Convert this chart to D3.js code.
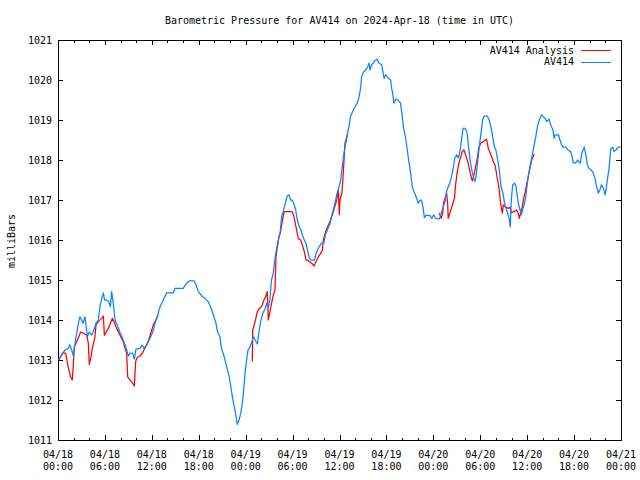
<!DOCTYPE html>
<html>
<head>
<meta charset="utf-8">
<script src="https://cdn.jsdelivr.net/npm/d3@7"></script>
<style>
html,body{margin:0;padding:0;background:#fff;}
svg{display:block;}
text{font-family:"DejaVu Sans Mono",monospace;font-size:10px;fill:#000;}
</style>
</head>
<body>
<svg id="chart" width="640" height="480"></svg>
<script>
// ---- data (hours since 2024-04-18 00:00 UTC, pressure in mbar) ----
const titleText = "Barometric Pressure for AV414 on 2024-Apr-18 (time in UTC)";
const yLabel = "milliBars";
const seriesNames = ["AV414 Analysis", "AV414"];
const xTickDates = ["04/18","04/18","04/18","04/18","04/19","04/19","04/19","04/19","04/20","04/20","04/20","04/20","04/21"];
const xTickTimes = ["00:00","06:00","12:00","18:00","00:00","06:00","12:00","18:00","00:00","06:00","12:00","18:00","00:00"];
const xTickHours = [0,6,12,18,24,30,36,42,48,54,60,66,72];
const yTicks = [1011,1012,1013,1014,1015,1016,1017,1018,1019,1020,1021];

const av414 = [
[0.1,1013.0],[0.4,1013.12],[0.9,1013.25],[1.3,1013.29],[1.5,1013.38],[1.75,1013.25],[1.96,1013.1],
[2.2,1013.46],[2.4,1013.67],[2.6,1013.92],[2.8,1014.08],[3.0,1014.0],[3.2,1013.92],[3.45,1014.08],
[3.6,1013.83],[3.75,1013.58],[4.0,1013.7],[4.3,1013.62],[4.5,1013.7],[4.86,1013.92],[5.15,1014.0],
[5.37,1014.33],[5.6,1014.54],[5.8,1014.68],[5.95,1014.5],[6.2,1014.5],[6.5,1014.46],[6.7,1014.33],
[6.86,1014.71],[7.07,1014.42],[7.3,1014.0],[7.6,1013.87],[7.9,1013.7],[8.27,1013.54],[8.57,1013.38],
[8.78,1013.25],[9.0,1013.1],[9.2,1013.17],[9.55,1013.17],[9.76,1013.02],[9.97,1013.27],[10.5,1013.29],
[10.74,1013.37],[11.0,1013.29],[11.34,1013.38],[11.76,1013.54],[12.2,1013.75],[12.4,1013.92],
[12.7,1014.08],[12.96,1014.29],[13.26,1014.42],[13.55,1014.54],[13.9,1014.68],[14.75,1014.68],
[14.96,1014.79],[16.0,1014.79],[16.45,1014.92],[16.8,1014.98],[17.4,1014.98],[17.65,1014.88],
[17.95,1014.71],[18.4,1014.6],[18.8,1014.54],[19.2,1014.46],[19.5,1014.33],[19.86,1014.13],
[20.2,1013.92],[20.4,1013.7],[20.7,1013.58],[20.9,1013.29],[21.2,1013.12],[21.57,1012.83],
[21.9,1012.58],[22.1,1012.33],[22.3,1012.08],[22.63,1011.75],[22.93,1011.39],[23.19,1011.52],
[23.4,1011.71],[23.6,1011.96],[23.8,1012.38],[23.95,1012.75],[24.1,1012.96],[24.3,1013.25],
[24.55,1013.33],[24.8,1013.46],[25.0,1013.58],[25.2,1013.5],[25.5,1013.4],[25.7,1013.71],
[25.96,1014.0],[26.2,1014.17],[26.5,1014.29],[26.7,1014.42],[26.9,1014.33],[27.1,1014.5],
[27.3,1015.0],[27.5,1015.13],[27.75,1015.54],[27.96,1015.79],[28.17,1016.0],[28.4,1016.17],
[28.6,1016.58],[28.8,1016.71],[29.07,1016.92],[29.3,1017.1],[29.54,1017.13],[29.75,1017.0],
[29.96,1017.0],[30.2,1016.88],[30.4,1016.75],[30.6,1016.5],[30.86,1016.33],[31.07,1016.25],
[31.24,1016.13],[31.5,1016.0],[31.71,1015.92],[31.9,1015.75],[32.1,1015.58],[32.3,1015.5],
[32.8,1015.5],[32.95,1015.63],[33.2,1015.75],[33.4,1015.83],[33.7,1015.92],[34.0,1015.92],
[34.2,1016.13],[34.45,1016.25],[34.8,1016.42],[35.0,1016.6],[35.2,1016.75],[35.45,1016.95],
[35.7,1017.17],[35.95,1017.33],[36.15,1017.5],[36.35,1017.83],[36.57,1018.17],[36.8,1018.42],
[37.0,1018.63],[37.2,1018.83],[37.4,1019.08],[37.68,1019.21],[37.98,1019.33],[38.28,1019.42],
[38.5,1019.58],[38.7,1019.79],[38.83,1020.08],[39.04,1020.19],[39.34,1020.25],[39.6,1020.33],
[39.77,1020.42],[39.9,1020.25],[40.1,1020.38],[40.33,1020.42],[40.5,1020.48],[40.8,1020.52],
[41.05,1020.42],[41.4,1020.38],[41.7,1020.04],[41.9,1020.13],[42.3,1020.04],[42.54,1020.0],
[42.67,1019.79],[42.8,1019.67],[42.95,1019.42],[43.2,1019.52],[43.5,1019.5],[43.8,1019.42],
[44.0,1019.13],[44.2,1018.79],[44.5,1018.5],[44.7,1018.2],[44.9,1017.92],[45.1,1017.67],
[45.3,1017.33],[45.55,1017.2],[45.86,1017.05],[46.07,1016.92],[46.3,1017.0],[46.5,1017.0],
[46.7,1016.79],[46.85,1016.56],[47.1,1016.62],[47.57,1016.61],[47.8,1016.54],[48.05,1016.63],
[48.3,1016.54],[48.8,1016.53],[49.0,1016.67],[49.2,1016.79],[49.5,1016.96],[49.7,1017.21],
[49.9,1017.33],[50.1,1017.42],[50.3,1017.56],[50.55,1017.8],[50.75,1018.05],[50.98,1018.13],
[51.2,1018.05],[51.4,1018.2],[51.6,1018.5],[51.8,1018.79],[52.05,1018.79],[52.3,1018.7],
[52.5,1018.33],[52.7,1018.0],[53.0,1017.67],[53.3,1017.46],[53.45,1017.58],[53.65,1017.92],
[53.87,1018.33],[54.1,1018.67],[54.3,1019.0],[54.5,1019.1],[54.9,1019.1],[55.15,1019.0],
[55.4,1018.79],[55.6,1018.58],[55.8,1018.33],[56.0,1018.25],[56.2,1018.04],[56.4,1017.79],
[56.5,1017.63],[56.65,1017.33],[56.9,1017.17],[57.1,1016.92],[57.3,1016.79],[57.5,1016.67],
[57.7,1016.54],[57.84,1016.33],[57.97,1017.0],[58.15,1017.38],[58.4,1017.42],[58.57,1017.33],
[58.75,1017.08],[58.9,1016.88],[59.1,1016.75],[59.25,1016.63],[59.4,1016.75],[59.6,1016.88],
[59.8,1017.04],[59.97,1017.33],[60.2,1017.67],[60.45,1017.92],[60.7,1018.17],[60.9,1018.38],
[61.1,1018.58],[61.3,1018.83],[61.55,1019.0],[61.85,1019.13],[62.05,1019.08],[62.3,1019.04],
[62.5,1018.96],[62.8,1019.02],[63.0,1018.88],[63.3,1018.75],[63.45,1018.54],[63.6,1018.63],
[64.0,1018.63],[64.2,1018.5],[64.4,1018.38],[64.6,1018.32],[64.95,1018.32],[65.2,1018.25],
[65.56,1018.21],[65.7,1018.13],[65.9,1017.93],[66.2,1017.93],[66.45,1018.0],[66.6,1017.96],
[66.8,1017.92],[66.98,1018.17],[67.3,1018.32],[67.5,1018.13],[67.7,1017.88],[67.9,1017.79],
[68.2,1017.75],[68.45,1017.67],[68.67,1017.54],[68.88,1017.33],[69.1,1017.17],[69.3,1017.25],
[69.5,1017.38],[69.75,1017.29],[69.95,1017.13],[70.08,1017.25],[70.25,1017.5],[70.45,1017.75],
[70.7,1018.29],[70.93,1018.32],[71.1,1018.21],[71.35,1018.25],[71.65,1018.32],[71.95,1018.32]
];

const analysisRun1 = [
[0.1,1013.0],[0.6,1013.17],[0.98,1013.17],[1.3,1012.83],[1.6,1012.58],[1.83,1012.5],[1.96,1012.88],
[2.09,1013.33],[2.4,1013.46],[2.9,1013.7],[3.24,1013.67],[3.67,1013.62],[3.88,1013.42],[4.0,1012.89],
[4.18,1013.04],[4.43,1013.33],[4.73,1013.58],[4.86,1013.88],[5.16,1013.96],[5.6,1014.04],[5.8,1014.1],
[5.93,1013.62],[6.44,1013.79],[6.95,1014.04],[7.16,1013.96],[7.5,1013.79],[7.93,1013.62],[8.35,1013.46],
[8.57,1013.29],[8.78,1013.17],[8.91,1012.58],[9.2,1012.5],[9.55,1012.42],[9.76,1012.35],[9.93,1012.96],
[10.15,1013.07],[10.5,1013.1],[10.78,1013.17],[11.1,1013.29],[11.55,1013.46],[11.9,1013.7],
[12.2,1013.88],[12.6,1014.04],[12.8,1014.13]
];
const analysisRun2 = [
[24.85,1012.96],[24.9,1013.75],[25.2,1013.96],[25.5,1014.21],[25.75,1014.29],[26.05,1014.33],
[26.25,1014.46],[26.55,1014.58],[26.77,1014.71],[26.9,1014.0],[27.1,1014.21],[27.32,1014.42],
[27.54,1014.63],[27.75,1014.75],[27.88,1015.58],[28.05,1015.83],[28.26,1016.08],[28.47,1016.21],
[28.7,1016.5],[28.94,1016.71],[29.96,1016.71],[30.18,1016.58],[30.44,1016.33],[30.73,1016.04],
[31.03,1016.0],[31.24,1015.88],[31.5,1015.71],[31.71,1015.5],[31.93,1015.5],[32.14,1015.46],
[32.44,1015.42],[32.74,1015.35],[33.0,1015.46],[33.3,1015.58],[33.6,1015.67],[33.81,1015.75],
[33.93,1016.0],[34.23,1016.21],[34.49,1016.33],[34.78,1016.46],[35.08,1016.63],[35.34,1016.79],
[35.64,1017.0],[35.85,1017.25],[35.98,1016.63],[36.06,1017.0],[36.3,1017.17],[36.43,1017.5],
[36.57,1017.96],[36.7,1018.42],[37.0,1018.63]
];
const analysisRun3 = [
[48.76,1016.67],[49.0,1016.54],[49.2,1016.67],[49.3,1016.92],[49.7,1017.17],[49.83,1016.92],
[49.9,1016.54],[50.1,1016.67],[50.3,1016.79],[50.5,1016.92],[50.7,1017.04],[50.85,1017.38],
[51.06,1017.71],[51.27,1017.92],[51.5,1018.08],[51.7,1018.21],[51.9,1018.25],[52.13,1018.13],
[52.4,1017.96],[52.6,1017.79],[52.77,1017.63],[52.98,1017.48],[53.2,1017.63],[53.45,1017.88],
[53.66,1018.08],[53.8,1018.29],[54.05,1018.42],[54.4,1018.46],[54.6,1018.5],[54.8,1018.52],
[55.03,1018.29],[55.3,1018.17],[55.45,1018.08],[55.67,1017.96],[55.88,1017.88],[56.0,1017.75],
[56.22,1017.5],[56.43,1017.25],[56.6,1016.92],[56.82,1016.67],[56.95,1016.88],[57.16,1016.83],
[57.6,1016.79],[57.8,1016.82],[58.0,1016.68],[58.3,1016.71],[58.65,1016.75],[58.86,1016.67],
[59.0,1016.54],[59.16,1016.67],[59.37,1016.83],[59.59,1017.08],[59.8,1017.25],[60.0,1017.46],
[60.23,1017.67],[60.44,1017.88],[60.65,1018.04],[60.9,1018.15]
];
const analysisRuns = [analysisRun1, analysisRun2, analysisRun3];

// ---- layout ----
const L = 58, R = 621, T = 40, B = 440;
const RED = "#ff0000", BLUE = "#0a84ff";

const svg = d3.select("#chart");
svg.append("rect").attr("width",640).attr("height",480).attr("fill","#fff");

const x = d3.scaleLinear().domain([0,72]).range([L,R]);
const y = d3.scaleLinear().domain([1011,1021]).range([B,T]);

function styleAxis(g){
  g.select(".domain").remove();
  g.selectAll("line").attr("stroke","#000").attr("shape-rendering","crispEdges");
  g.selectAll("text").remove();
}
// minor x ticks every 2 h, major every 6 h (inward, mirrored)
svg.append("g").attr("transform",`translate(0,${B})`)
  .call(d3.axisBottom(x).tickValues(d3.range(0,73,2)).tickSize(-2.5)).call(styleAxis);
svg.append("g").attr("transform",`translate(0,${T})`)
  .call(d3.axisTop(x).tickValues(d3.range(0,73,2)).tickSize(-2.5)).call(styleAxis);
svg.append("g").attr("transform",`translate(0,${B})`)
  .call(d3.axisBottom(x).tickValues(xTickHours).tickSize(-5)).call(styleAxis);
svg.append("g").attr("transform",`translate(0,${T})`)
  .call(d3.axisTop(x).tickValues(xTickHours).tickSize(-5)).call(styleAxis);
svg.append("g").attr("transform",`translate(${L},0)`)
  .call(d3.axisLeft(y).tickValues(yTicks).tickSize(-5)).call(styleAxis);
svg.append("g").attr("transform",`translate(${R},0)`)
  .call(d3.axisRight(y).tickValues(yTicks).tickSize(-5)).call(styleAxis);

// frame
svg.append("rect").attr("x",L+0.5).attr("y",T+0.5).attr("width",R-L).attr("height",B-T)
  .attr("fill","none").attr("stroke","#000").attr("stroke-width",1).attr("shape-rendering","crispEdges");

// y labels
svg.append("g").selectAll("text").data(yTicks).join("text")
  .attr("x",L-6).attr("y",d=>y(d)+3.6).attr("text-anchor","end").text(d=>d);

// x labels
const xl = svg.append("g").selectAll("text").data(xTickHours).join("text")
  .attr("text-anchor","middle");
xl.append("tspan").attr("x",d=>x(d)).attr("y",458).text((d,i)=>xTickDates[i]);
xl.append("tspan").attr("x",d=>x(d)).attr("y",469.5).text((d,i)=>xTickTimes[i]);

// title & axis label
svg.append("text").attr("x",(L+R)/2).attr("y",24).attr("text-anchor","middle").text(titleText);
svg.append("text").attr("transform","translate(15,241) rotate(-90)").attr("text-anchor","middle").text(yLabel);

// data lines
const line = d3.line().x(d=>x(d[0])).y(d=>y(d[1]));
const plot = svg.append("g");
analysisRuns.forEach(run=>{
  plot.append("path").datum(run).attr("d",line).attr("fill","none")
    .attr("stroke",RED).attr("stroke-width",1.25).attr("stroke-linejoin","round");
});
plot.append("path").datum(av414).attr("d",line).attr("fill","none")
  .attr("stroke",BLUE).attr("stroke-width",1.25).attr("stroke-linejoin","round");

// legend
const legend = svg.append("g");
const legendColors = [RED, BLUE];
const legendY = [50, 61.7];
seriesNames.forEach((name,i)=>{
  legend.append("text").attr("x",574).attr("y",legendY[i]+3.6).attr("text-anchor","end").text(name);
  legend.append("line").attr("x1",581).attr("x2",611).attr("y1",Math.round(legendY[i])+0.5).attr("y2",Math.round(legendY[i])+0.5)
    .attr("stroke",legendColors[i]).attr("stroke-width",1);
});
</script>
</body>
</html>
